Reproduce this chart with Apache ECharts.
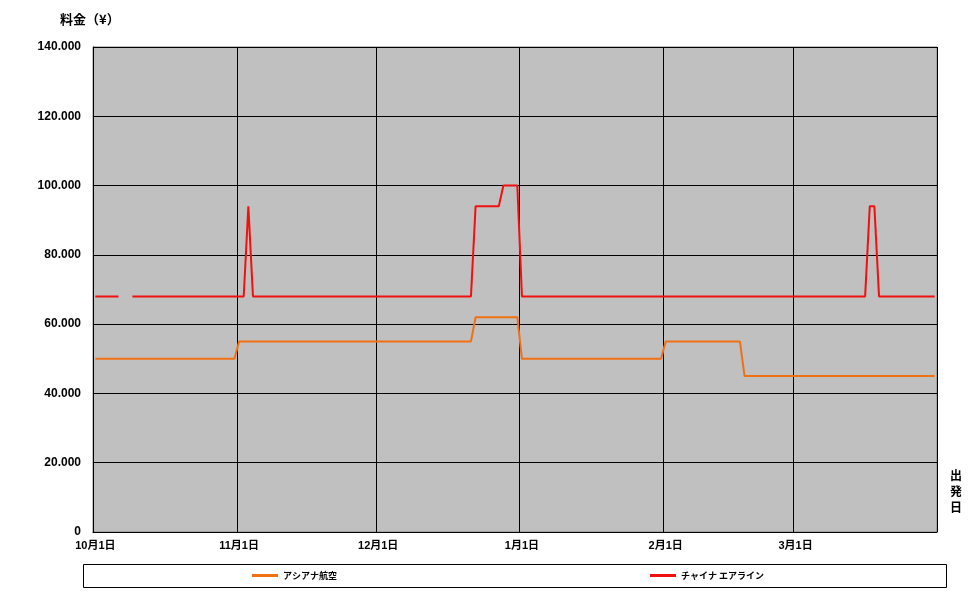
<!DOCTYPE html>
<html>
<head>
<meta charset="utf-8">
<script src="https://cdn.jsdelivr.net/npm/echarts@6/dist/echarts.min.js"></script>
<style>html,body{margin:0;padding:0;background:#fff;}#c{width:972px;height:595px;}</style>
</head>
<body>
<div id="c"></div>
<script>
// Months shown (Oct .. Mar), number of days in each
const monthNums = [10, 11, 12, 1, 2, 3];
const monthDays = [31, 30, 31, 31, 28, 31];
const seriesNames = ['アシアナ航空', 'チャイナ エアライン'];
const yTicks = [0, 20000, 40000, 60000, 80000, 100000, 120000, 140000];

// アシアナ航空 (one value per day, Oct 1 .. Mar 31)
const asiana = [
  // Oct (31)
  50000,50000,50000,50000,50000,50000,50000,50000,50000,50000,
  50000,50000,50000,50000,50000,50000,50000,50000,50000,50000,
  50000,50000,50000,50000,50000,50000,50000,50000,50000,50000,
  50000,
  // Nov (30)
  55000,55000,55000,55000,55000,55000,55000,55000,55000,55000,
  55000,55000,55000,55000,55000,55000,55000,55000,55000,55000,
  55000,55000,55000,55000,55000,55000,55000,55000,55000,55000,
  // Dec (31): 1-21 55000, 22-31 62000
  55000,55000,55000,55000,55000,55000,55000,55000,55000,55000,
  55000,55000,55000,55000,55000,55000,55000,55000,55000,55000,
  55000,62000,62000,62000,62000,62000,62000,62000,62000,62000,
  62000,
  // Jan (31)
  50000,50000,50000,50000,50000,50000,50000,50000,50000,50000,
  50000,50000,50000,50000,50000,50000,50000,50000,50000,50000,
  50000,50000,50000,50000,50000,50000,50000,50000,50000,50000,
  50000,
  // Feb (28): 1-17 55000, 18-28 45000
  55000,55000,55000,55000,55000,55000,55000,55000,55000,55000,
  55000,55000,55000,55000,55000,55000,55000,45000,45000,45000,
  45000,45000,45000,45000,45000,45000,45000,45000,
  // Mar (31)
  45000,45000,45000,45000,45000,45000,45000,45000,45000,45000,
  45000,45000,45000,45000,45000,45000,45000,45000,45000,45000,
  45000,45000,45000,45000,45000,45000,45000,45000,45000,45000,
  45000
];

// チャイナ エアライン (one value per day, Oct 1 .. Mar 31)
const china = [
  // Oct (31): 7-8 missing
  68000,68000,68000,68000,68000,68000,null,null,68000,68000,
  68000,68000,68000,68000,68000,68000,68000,68000,68000,68000,
  68000,68000,68000,68000,68000,68000,68000,68000,68000,68000,
  68000,
  // Nov (30): 3 = 94000
  68000,68000,94000,68000,68000,68000,68000,68000,68000,68000,
  68000,68000,68000,68000,68000,68000,68000,68000,68000,68000,
  68000,68000,68000,68000,68000,68000,68000,68000,68000,68000,
  // Dec (31): 22-27 94000, 28-31 100000
  68000,68000,68000,68000,68000,68000,68000,68000,68000,68000,
  68000,68000,68000,68000,68000,68000,68000,68000,68000,68000,
  68000,94000,94000,94000,94000,94000,94000,100000,100000,100000,
  100000,
  // Jan (31)
  68000,68000,68000,68000,68000,68000,68000,68000,68000,68000,
  68000,68000,68000,68000,68000,68000,68000,68000,68000,68000,
  68000,68000,68000,68000,68000,68000,68000,68000,68000,68000,
  68000,
  // Feb (28)
  68000,68000,68000,68000,68000,68000,68000,68000,68000,68000,
  68000,68000,68000,68000,68000,68000,68000,68000,68000,68000,
  68000,68000,68000,68000,68000,68000,68000,68000,
  // Mar (31): 17-18 94000
  68000,68000,68000,68000,68000,68000,68000,68000,68000,68000,
  68000,68000,68000,68000,68000,68000,94000,94000,68000,68000,
  68000,68000,68000,68000,68000,68000,68000,68000,68000,68000,
  68000
];

// category labels, one per day
const categories = [];
const monthStartIdx = new Set();
monthNums.forEach((m, k) => {
  for (let d = 1; d <= monthDays[k]; d++) {
    if (d === 1) monthStartIdx.add(categories.length);
    categories.push(m + '月' + d + '日');
  }
});

const numFont = '"Liberation Sans", "Noto Sans CJK JP", sans-serif';
const jpFont = '"Noto Sans CJK JP", sans-serif';

const chart = echarts.init(document.getElementById('c'), null, {renderer: 'canvas'});
chart.setOption({
  animation: false,
  backgroundColor: '#ffffff',
  grid: {
    left: 93, right: 35, top: 47, bottom: 63,
    show: true, backgroundColor: '#C0C0C0', borderColor: '#808080', borderWidth: 1
  },
  xAxis: {
    type: 'category',
    data: categories,
    boundaryGap: true,
    axisLine: {show: true, lineStyle: {color: '#000', width: 1}},
    axisTick: {show: false},
    axisLabel: {
      interval: (idx) => monthStartIdx.has(idx),
      color: '#000', fontSize: 11, fontWeight: 'bold', fontFamily: numFont,
      margin: 8
    },
    splitLine: {
      show: true,
      interval: (idx) => monthStartIdx.has(idx),
      lineStyle: {color: '#000', width: 1}
    }
  },
  yAxis: {
    type: 'value',
    min: yTicks[0], max: yTicks[yTicks.length - 1], interval: yTicks[1] - yTicks[0],
    axisLine: {show: true, lineStyle: {color: '#000', width: 1}},
    axisTick: {show: false},
    axisLabel: {
      color: '#000', fontSize: 12, fontWeight: 'bold', fontFamily: numFont, margin: 12,
      formatter: (v) => String(v).replace(/\B(?=(\d{3})+(?!\d))/g, '.')
    },
    splitLine: {show: true, lineStyle: {color: '#000', width: 1}}
  },
  legend: [
    {
      data: [seriesNames[0]], left: 252, top: 571, padding: 0, icon: 'rect', itemWidth: 26, itemHeight: 3,
      itemGap: 0, textStyle: {color: '#000', fontSize: 9, fontWeight: 'bold', fontFamily: jpFont}
    },
    {
      data: [seriesNames[1]], left: 650, top: 571, padding: 0, icon: 'rect', itemWidth: 26, itemHeight: 3,
      itemGap: 0, textStyle: {color: '#000', fontSize: 9, fontWeight: 'bold', fontFamily: jpFont}
    }
  ],
  graphic: [
    {
      type: 'rect', left: 83, top: 564, z: -1, silent: true,
      shape: {width: 863, height: 23},
      style: {fill: '#fff', stroke: '#000', lineWidth: 1}
    },
    {
      type: 'text', left: 60, top: 13,
      style: {text: '料金（¥）', font: 'bold 13px ' + jpFont, fill: '#000'}
    },
    {
      type: 'text', left: 950, top: 467,
      style: {text: '出\n発\n日', font: 'bold 12px ' + jpFont, fill: '#000', lineHeight: 16}
    }
  ],
  series: [
    {
      name: seriesNames[0], type: 'line', data: asiana, showSymbol: false, symbol: 'none',
      color: '#F07014', lineStyle: {width: 2, color: '#F07014'}, connectNulls: false
    },
    {
      name: seriesNames[1], type: 'line', data: china, showSymbol: false, symbol: 'none',
      color: '#F01010', lineStyle: {width: 2, color: '#F01010'}, connectNulls: false
    }
  ]
});
</script>
</body>
</html>
